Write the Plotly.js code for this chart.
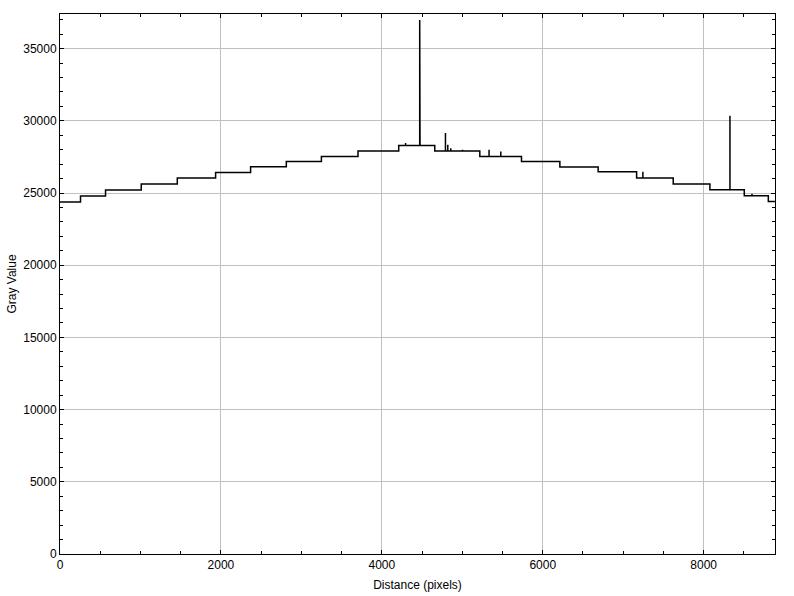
<!DOCTYPE html>
<html>
<head>
<meta charset="utf-8">
<script src="https://cdn.plot.ly/plotly-3.0.1.min.js"></script>
<style>html,body{margin:0;padding:0;background:#fff;}#chart{width:794px;height:596px;}</style>
</head>
<body>
<div id="chart"></div>
<script>
// Step profile: distance where each level starts, and the gray level
const stepStart = [0, 255, 566, 1010, 1458, 1934, 2369, 2813, 3249, 3704, 4210, 4658, 5218, 5736, 6213, 6689, 7167, 7622, 8078, 8505, 8804];
const stepLevel = [24380, 24790, 25210, 25620, 26040, 26430, 26820, 27190, 27530, 27920, 28290, 27920, 27530, 27190, 26800, 26470, 26040, 25620, 25230, 24810, 24420];
const profileEnd = 8886;
// Narrow spikes above the baseline
const spikeX = [4295, 4471, 4475, 4791, 4820, 4857, 5003, 5333, 5479, 7245, 8327, 8601];
const spikeY = [28460, 36990, 31450, 29150, 28350, 28100, 28000, 27990, 27880, 26470, 30346, 24950];

function levelAt(d) {
  let L = stepLevel[0];
  for (let i = 0; i < stepStart.length; i++) if (stepStart[i] <= d) L = stepLevel[i];
  return L;
}
// Build the polyline from steps + spikes
const events = [];
for (let i = 0; i < stepStart.length; i++) events.push({x: stepStart[i], type: 's', i: i});
for (let j = 0; j < spikeX.length; j++) events.push({x: spikeX[j], type: 'p', j: j});
events.sort((a, b) => a.x - b.x);
const xs = [], ys = [];
let cur = null;
for (const e of events) {
  if (e.type === 's') {
    if (cur !== null) { xs.push(e.x); ys.push(cur); }
    cur = stepLevel[e.i];
    xs.push(e.x); ys.push(cur);
  } else {
    const L = levelAt(e.x);
    xs.push(e.x, e.x, e.x); ys.push(L, spikeY[e.j], L);
  }
}
xs.push(profileEnd); ys.push(cur);

const font = {family: 'Liberation Sans, Arial, sans-serif', size: 12, color: '#000'};
const trace = {x: xs, y: ys, type: 'scatter', mode: 'lines', line: {color: '#000', width: 1.5}, hoverinfo: 'skip'};
const layout = {
  width: 794, height: 596,
  margin: {l: 60, r: 19, t: 14, b: 42},
  paper_bgcolor: '#fff', plot_bgcolor: '#fff',
  showlegend: false,
  font: font,
  xaxis: {
    range: [0, 8887], dtick: 2000, tick0: 0, tickformat: 'd',
    ticks: 'inside', ticklen: 4, tickcolor: '#000', mirror: 'ticks',
    showline: true, linecolor: '#000', linewidth: 1,
    showgrid: true, gridcolor: '#c0c0c0', gridwidth: 1, zeroline: false,
    minor: {dtick: 500, ticks: 'inside', ticklen: 3, tickcolor: '#000', showgrid: false},
    title: {text: 'Distance (pixels)', font: font, standoff: 9},
    tickfont: font, automargin: false
  },
  yaxis: {
    range: [0, 37400], dtick: 5000, tick0: 0, tickformat: 'd',
    ticks: 'inside', ticklen: 4, tickcolor: '#000', mirror: 'ticks',
    showline: true, linecolor: '#000', linewidth: 1,
    showgrid: true, gridcolor: '#c0c0c0', gridwidth: 1, zeroline: false,
    minor: {dtick: 1000, ticks: 'inside', ticklen: 3, tickcolor: '#000', showgrid: false},
    title: {text: 'Gray Value', font: font, standoff: 4},
    tickfont: font, automargin: false
  }
};
Plotly.newPlot('chart', [trace], layout, {staticPlot: true, displayModeBar: false});
</script>
</body>
</html>
